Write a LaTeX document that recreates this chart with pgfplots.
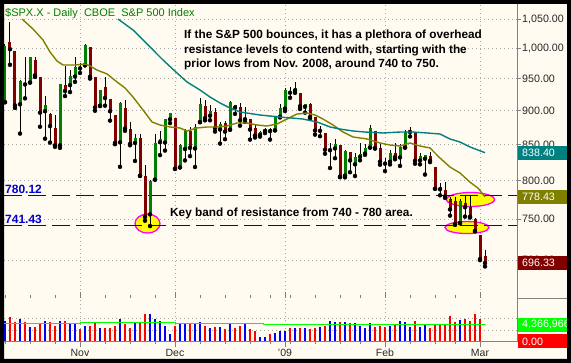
\documentclass[border=0pt]{standalone}
\usepackage{pgfplots}
\pgfplotsset{compat=1.18}
\usepackage{pgfplotstable}
\usepackage{fontspec}
\setmainfont{Liberation Sans}
\definecolor{bgc}{RGB}{255,251,240}
\definecolor{upc}{RGB}{0,128,0}
\definecolor{dnc}{RGB}{128,0,0}
\definecolor{maA}{RGB}{128,128,0}
\definecolor{maB}{RGB}{0,128,128}
\definecolor{vup}{RGB}{0,0,255}
\definecolor{vdn}{RGB}{255,0,0}
\definecolor{vma}{RGB}{0,255,0}
\definecolor{lvl}{RGB}{0,0,204}
\definecolor{hl}{RGB}{255,255,0}
\definecolor{hlb}{RGB}{255,0,255}
\definecolor{axc}{RGB}{128,128,128}
\definecolor{grd}{RGB}{165,165,165}
\definecolor{txt}{RGB}{40,40,40}
\definecolor{ttl}{RGB}{0,128,0}

% up candles (close > open): i open high low close
\pgfplotstableread{
i o h l c
0 912.75 1006.93 912.75 1003.35
3 909.53 947.71 865.83 946.43
5 943.51 985.40 943.51 985.40
8 899.08 922.83 858.44 908.11
11 848.92 940.51 845.27 940.51
13 939.38 963.23 928.50 954.09
14 953.11 984.38 944.59 968.75
16 971.31 1007.51 971.31 1005.75
19 907.44 931.46 906.90 930.99
23 853.13 913.01 818.69 911.29
26 852.34 865.90 826.84 859.12
29 755.84 801.20 741.02 800.03
30 801.20 865.60 801.20 851.81
31 853.40 868.94 834.99 857.39
32 852.90 887.68 841.37 887.68
33 886.89 896.25 881.21 896.24
35 817.94 850.54 817.94 848.81
36 843.60 873.12 827.60 870.74
38 844.43 879.42 818.41 876.07
39 882.71 918.57 882.71 909.70
41 892.17 908.27 885.45 899.24
43 871.79 883.24 851.35 879.73
45 871.53 914.66 871.53 913.18
48 886.96 905.47 883.02 887.88
51 863.87 869.79 861.44 868.15
52 869.51 873.74 866.52 872.80
54 870.58 891.12 870.58 890.64
55 890.59 910.32 889.67 903.25
56 902.99 934.73 899.35 931.80
58 931.17 943.85 927.28 934.70
60 905.73 910.00 896.81 909.73
63 869.79 877.02 862.02 871.79
65 841.99 851.59 817.04 843.74
66 844.45 858.13 830.66 850.12
68 806.77 841.72 804.30 840.24
70 822.16 838.61 806.07 831.95
71 832.50 852.53 827.69 836.57
72 837.30 850.45 835.40 845.71
73 845.73 877.86 845.73 874.09
76 823.09 830.78 812.87 825.44
77 825.69 842.60 821.98 838.51
79 831.75 850.55 819.91 845.85
80 846.09 870.75 845.42 868.60
81 868.24 875.01 861.65 869.89
83 827.41 838.22 822.08 833.74
84 829.91 835.48 808.06 835.19
91 744.69 775.49 744.69 773.14
}\candup

% down candles (close < open)
\pgfplotstableread{
i o h l c
1 1009.97 1044.31 972.07 998.01
2 994.60 994.60 903.99 907.84
4 942.29 984.64 918.74 940.55
6 980.40 985.44 952.47 955.05
7 951.67 951.67 875.81 896.78
9 895.22 896.30 852.85 876.77
10 874.28 893.78 846.75 848.92
12 939.51 969.97 922.26 930.09
15 968.67 975.57 958.82 966.30
17 1001.84 1001.84 949.86 952.77
18 952.40 952.40 899.73 904.88
20 936.75 951.95 907.47 919.21
21 917.15 917.15 884.90 898.95
22 893.39 893.39 850.48 852.30
24 904.36 916.88 869.88 873.29
25 873.23 882.29 848.98 850.75
27 859.03 864.57 806.18 806.58
28 805.87 820.52 747.78 752.44
34 888.61 888.61 815.69 816.21
37 869.75 875.60 833.60 845.22
40 906.48 916.26 885.38 888.67
42 898.35 904.63 868.73 873.59
44 881.07 884.63 857.72 868.57
46 908.16 908.16 895.04 904.42
47 905.98 911.02 877.44 885.28
49 887.20 887.37 857.09 871.63
50 874.31 880.44 860.10 863.16
53 872.37 873.70 857.07 869.42
57 929.17 936.63 919.53 927.45
59 927.45 927.45 902.37 906.65
61 909.91 911.93 888.31 890.35
62 890.40 890.40 864.32 870.26
64 867.28 867.28 836.93 842.62
67 849.64 849.64 804.47 805.22
69 839.74 839.74 811.29 827.50
74 868.89 868.89 844.15 845.14
75 845.69 851.66 821.67 825.88
78 837.77 851.85 829.18 832.23
82 866.87 868.05 822.99 827.16
85 833.95 839.43 825.21 826.84
86 818.61 818.61 789.17 789.17
87 791.06 796.17 780.43 788.42
88 787.91 797.58 777.03 778.94
89 775.87 778.69 754.25 762.00
90 773.25 777.85 742.37 743.33
92 770.64 780.12 752.89 764.90
93 765.76 779.42 751.75 752.83
94 749.93 751.27 734.52 735.09
95 729.57 729.57 699.70 700.82
96 704.44 711.67 692.30 696.33
}\canddn

% volume (millions), up days
\pgfplotstableread{
i v
0 5.49
3 6.01
5 3.92
8 5.49
11 5.23
13 4.71
14 4.71
16 4.18
19 3.66
23 6.01
26 4.71
29 7.32
30 6.01
31 5.23
32 4.18
33 1.83
35 4.45
36 4.71
38 4.71
39 4.97
41 3.66
43 3.92
45 4.45
48 4.71
51 1.05
52 1.05
54 2.35
55 2.62
56 2.62
58 3.66
60 3.40
63 3.92
65 5.49
66 4.97
68 4.97
70 4.71
71 4.18
72 3.66
73 4.71
77 4.18
79 5.23
80 4.97
81 3.92
83 3.92
84 4.45
91 5.75
}\volup

% volume (millions), down days
\pgfplotstableread{
i v
1 6.28
2 4.97
4 4.97
6 3.92
7 4.71
9 4.97
10 4.18
12 5.23
15 3.14
17 4.18
18 4.71
20 3.40
21 3.66
22 4.18
24 4.45
25 3.66
27 4.97
28 7.06
34 4.18
37 4.45
40 4.18
42 3.92
44 3.14
46 3.66
47 4.18
49 3.14
50 2.62
53 2.09
57 3.40
59 3.40
61 3.14
62 3.40
64 4.18
67 4.97
69 4.71
74 3.92
75 4.18
76 3.92
78 4.45
82 5.49
85 3.40
86 4.45
87 4.45
88 4.45
89 6.54
90 4.97
92 6.01
93 5.23
94 7.32
95 6.01
96 0.26
}\voldn

\begin{document}
\begin{tikzpicture}
\useasboundingbox (0pt,0pt) rectangle (571pt,-363pt);
\fill[bgc] (0pt,0pt) rectangle (571pt,-363pt);

\begin{axis}[
  at={(4pt,-298pt)}, anchor=south west,
  scale only axis, width=513pt, height=294pt,
  xmin=-0.2, xmax=102.4,
  ymode=log, ymin=656.5, ymax=1077,
  clip mode=individual,
  axis line style={draw=none},
  xtick={15,34,56,76,95}, xticklabels={},
  xtick style={draw=none},
  ytick={700,750,800,850,900,950,1000,1050},
  minor ytick={},
  yticklabels={700.00,750.00,800.00,850.00,900.00,950.00,{1,000.00},{1,050.00}},
  yticklabel pos=right,
  ytick style={draw=axc, line width=0.8pt},
  tick align=outside, major tick length=4pt,
  yticklabel style={font=\fontsize{10.7}{12}\selectfont, text=txt, anchor=west, inner sep=0pt, xshift=1pt},
  xmajorgrids, ymajorgrids,
  major grid style={draw=grd, dash pattern=on 1pt off 3pt, line width=0.8pt},
]
% highlighted areas
\draw[hlb, fill=hl, line width=1.3pt] (axis cs:28.5,744.2) ellipse [x radius=12.5pt, y radius=9.5pt];
\draw[hlb, fill=hl, line width=1.3pt] (axis cs:93.1,775.0) ellipse [x radius=24pt, y radius=7pt];
\draw[hlb, fill=hl, line width=1.3pt] (axis cs:92.4,739.2) ellipse [x radius=22pt, y radius=6pt];
% resistance levels
\addplot[lvl, line width=1pt, dash pattern=on 18pt off 6pt] coordinates {(-0.2,780.12) (102.4,780.12)};
\addplot[lvl, line width=1pt, dash pattern=on 18pt off 6pt] coordinates {(-0.2,741.43) (102.4,741.43)};
% wicks
\addplot[only marks, mark=none, error bars/.cd, y dir=plus, y explicit, error mark=none,
  error bar style={black, line width=1pt}]
  table[x=i, y=l, y error expr=\thisrow{h}-\thisrow{l}] {\candup};
\addplot[only marks, mark=none, error bars/.cd, y dir=plus, y explicit, error mark=none,
  error bar style={black, line width=1pt}]
  table[x=i, y=l, y error expr=\thisrow{h}-\thisrow{l}] {\canddn};
% bodies
\addplot[only marks, mark=none, error bars/.cd, y dir=plus, y explicit, error mark=none,
  error bar style={upc, line width=3pt}]
  table[x=i, y=o, y error expr=\thisrow{c}-\thisrow{o}] {\candup};
\addplot[only marks, mark=none, error bars/.cd, y dir=plus, y explicit, error mark=none,
  error bar style={dnc, line width=3pt}]
  table[x=i, y=c, y error expr=\thisrow{o}-\thisrow{c}] {\canddn};
% moving averages
\addplot[maA, line width=1.4pt] coordinates {
(3.4,1050) (5.6,1032.5) (7.6,1013.6) (9,993.3) (10.4,978.3) (11.6,971.8) (14,971.8)
(16,973.4) (17,970.2) (18.4,963.6) (20.4,957.2) (22.4,944.4) (24,934.9) (25.6,920.8)
(27.6,900.9) (29.4,882.9) (31,878.4) (33,875.5) (35,874) (36.4,869.6) (38.4,874)
(40.4,875.5) (42.4,875.5) (44.4,876.9) (46.4,881.4) (48.4,881.4) (50.4,878.4)
(52.4,876.9) (54.4,879.9) (56.4,887.3) (58.4,894.8) (60.4,896.3) (62,893.3)
(63.6,887.3) (65.6,878.4) (67.6,868.1) (69.6,860.9) (72.4,858) (75,852.2) (77,849.3)
(79,847.9) (81,852.2) (83,847.9) (85,845.1) (87,830.9) (89,818.4) (91,810.2)
(93,798) (94.6,790) (96,778.43)};
\addplot[maB, line width=1.4pt] coordinates {
(22.6,1050) (25.6,1030.8) (29,1001.7) (31.6,980) (34.4,958.8) (36.4,944.4) (39,931.7)
(41,920.8) (43,911.6) (45,903.9) (47,897.9) (51,893.3) (55,890.3) (59.6,887.3)
(62.4,882.9) (65,875.5) (67,872.5) (69.6,869.6) (72,868.1) (75.6,866.7) (79,868.1)
(81.6,868.1) (84.4,866.7) (87,865.2) (89,858) (91,853.6) (93,846.5) (96,838.4)};
% last-value boxes
\node[fill=maB, text=white, anchor=west, xshift=1pt, font=\fontsize{10.7}{12}\selectfont,
  text width=41pt, align=left, inner xsep=4pt, inner ysep=0pt, minimum height=14pt]
  at (axis cs:102.4,838.4) {838.40};
\node[fill=maA, text=white, anchor=west, xshift=1pt, font=\fontsize{10.7}{12}\selectfont,
  text width=41pt, align=left, inner xsep=4pt, inner ysep=0pt, minimum height=14pt]
  at (axis cs:102.4,778.43) {778.43};
\node[fill=dnc, text=white, anchor=west, xshift=1pt, font=\fontsize{10.7}{12}\selectfont,
  text width=41pt, align=left, inner xsep=4pt, inner ysep=0pt, minimum height=14pt]
  at (axis cs:102.4,696.33) {696.33};
\end{axis}

\begin{axis}[
  at={(4pt,-341.5pt)}, anchor=south west,
  scale only axis, width=513pt, height=43.5pt,
  xmin=-0.2, xmax=102.4, ymin=0, ymax=11.375,
  clip mode=individual,
  axis line style={draw=none},
  xtick={15,34,56,76,95}, xticklabels={Nov,Dec,'09,Feb,Mar},
  minor xtick={0,5,10,20,25,30,39,44,49,53,57,62,67,71,81,86,90},
  xtick style={draw=axc, line width=0.8pt},
  tick align=outside, major tick length=6pt, minor tick length=3pt,
  xticklabel style={font=\fontsize{10.5}{12}\selectfont, text=txt, inner sep=0pt, anchor=north, yshift=-1.5pt},
  ytick={3,6}, yticklabels={}, ytick style={draw=none},
  xmajorgrids, ymajorgrids,
  major grid style={draw=grd, dash pattern=on 1pt off 3pt, line width=0.8pt},
]
\addplot[ycomb, vup, line width=2.7pt, mark=none] table[x=i, y=v] {\volup};
\addplot[ycomb, vdn, line width=2.7pt, mark=none] table[x=i, y=v] {\voldn};
\addplot[vma, line width=1pt, const plot] coordinates {
(-0.2,4.63) (15,4.97) (34,4.79) (48.6,4.63) (51.6,4.45) (58.6,4.33) (96,4.37)};
\node[fill=vma, text=white, anchor=west, xshift=1pt, font=\fontsize{10.7}{12}\selectfont,
  text width=41pt, align=left, inner xsep=4pt, inner ysep=0pt, minimum height=14pt]
  at (axis cs:102.4,4.367) {4,366,966};
\node[fill=vdn, text=white, anchor=west, xshift=1pt, font=\fontsize{10.7}{12}\selectfont,
  text width=41pt, align=left, inner xsep=4pt, inner ysep=0pt, minimum height=14pt]
  at (axis cs:102.4,0) {0.00};
\end{axis}

\begin{scope}[x=1pt, y=1pt]
\draw[axc, line width=1pt] (517,-4) -- (517,-342);
\draw[axc, line width=1pt] (4,-341.5) -- (517,-341.5);
\draw[axc, line width=1pt] (517,-298.5) -- (567,-298.5);
\node[anchor=base west, text=ttl, inner sep=0pt, font=\fontsize{11}{12}\selectfont]
  at (5,-17) {\$SPX.X - Daily\ \ CBOE\ \ S\&P 500 Index};
\node[anchor=base west, inner sep=0pt, font=\bfseries\fontsize{11.8}{14}\selectfont]
  at (184,-38.5) {If the S\&P 500 bounces, it has a plethora of overhead};
\node[anchor=base west, inner sep=0pt, font=\bfseries\fontsize{11.8}{14}\selectfont]
  at (184,-53.5) {resistance levels to contend with, starting with the};
\node[anchor=base west, inner sep=0pt, font=\bfseries\fontsize{11.8}{14}\selectfont]
  at (184,-68) {prior lows from Nov. 2008, around 740 to 750.};
\node[anchor=base west, inner sep=0pt, font=\bfseries\fontsize{11.8}{14}\selectfont]
  at (170,-216.5) {Key band of resistance from 740 - 780 area.};
\node[anchor=base west, inner sep=0pt, text=lvl, font=\bfseries\fontsize{12}{14}\selectfont]
  at (5,-194) {780.12};
\node[anchor=base west, inner sep=0pt, text=lvl, font=\bfseries\fontsize{12}{14}\selectfont]
  at (5,-224) {741.43};
\fill[black, even odd rule] (0,0) rectangle (571,-363) (4,-4) rectangle (567,-359);
\end{scope}
\end{tikzpicture}
\end{document}
